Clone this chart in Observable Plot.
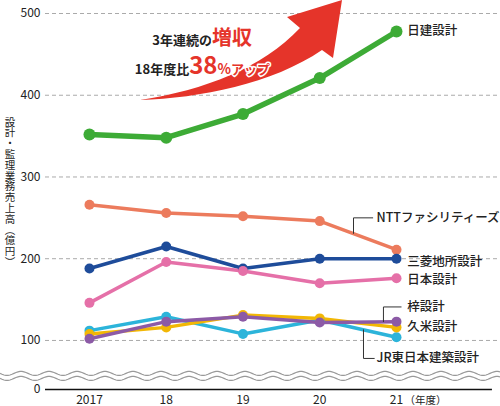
<!DOCTYPE html>
<html><head><meta charset="utf-8">
<script src="https://cdn.jsdelivr.net/npm/d3@7"></script>
<script src="https://cdn.jsdelivr.net/npm/@observablehq/plot@0.6"></script>
<style>
body{margin:0;background:#fff;}
#chart svg{display:block;}
</style></head>
<body><div id="chart"></div>
<script>
const years = [2017, 2018, 2019, 2020, 2021];
const yearLabels = ["2017", "18", "19", "20", "21"];
const companies = ["日建設計","NTTファシリティーズ","三菱地所設計","日本設計","JR東日本建築設計","久米設計","梓設計"];
const nikken     = [352, 348, 377, 421, 478];
const ntt        = [266, 256, 252, 246, 211];
const mitsubishi = [188, 215, 188, 200, 200];
const nihon      = [146, 196, 185, 170, 176];
const jr         = [112, 129, 108, 125, 104];
const kume       = [108, 116, 131, 127, 116];
const azusa      = [102, 123, 129, 122, 123];
const yTicks = [100, 200, 300, 400, 500];
const colors = ["#3dab36","#ec7b5d","#1e4c9a","#e570a8","#2cb4da","#f2b705","#8c5aa6"];
const yTitle = "設計・監理業務売上高（億円）";

const seriesValues = [nikken, ntt, mitsubishi, nihon, jr, kume, azusa];
const data = companies.flatMap((c, i) => years.map((y, j) => ({company: c, year: y, value: seriesValues[i][j]})));

// label annotations (anchor in data units)
const labels = [
  {company: companies[0], x: 2021.14, y: 478},
  {company: companies[1], x: 2020.74, y: 250},
  {company: companies[2], x: 2021.14, y: 196},
  {company: companies[3], x: 2021.14, y: 174},
  {company: companies[6], x: 2021.14, y: 141},
  {company: companies[5], x: 2021.14, y: 116},
  {company: companies[4], x: 2020.74, y: 78}
];
const leaders = [
  [{x:2020.44,y:231},{x:2020.44,y:250},{x:2020.69,y:250}],
  [{x:2020.83,y:123},{x:2020.83,y:141},{x:2021.06,y:141}],
  [{x:2020.57,y:113},{x:2020.57,y:78},{x:2020.71,y:78}]
].flatMap((pts, k) => pts.map(p => ({...p, k})));

const BREAK = 40; // axis origin shown as 0
const font = "'Noto Sans CJK JP', 'Noto Sans', sans-serif";
const color = {domain: companies, range: colors};
const others = data.filter(d => d.company !== companies[0]);
const drawOrder = [companies[1], companies[2], companies[3], companies[4], companies[5], companies[6]];
const green = data.filter(d => d.company === companies[0]);

const chart = Plot.plot({
  width: 500, height: 406,
  marginLeft: 45, marginRight: 0, marginTop: 13, marginBottom: 17,
  style: {fontFamily: font, fontSize: "12px", color: "#222", background: "#fff"},
  x: {type: "linear", domain: [2016.427, 2022.355]},
  y: {type: "linear", domain: [BREAK, 500]},
  color,
  marks: [
    Plot.ruleY(yTicks, {stroke: "#aaa", strokeDasharray: "4,3", strokeWidth: 1}),
    Plot.ruleY([BREAK], {x1: 2016.427, x2: 2022.25, stroke: "#111", strokeWidth: 1.6}),
    Plot.axisY({ticks: [BREAK, ...yTicks], tickFormat: d => d === BREAK ? "0" : String(d), tickSize: 0, tickPadding: 5, label: null, fontSize: 12}),
    Plot.axisX({ticks: years, tickFormat: d => yearLabels[years.indexOf(d)], tickSize: 0, tickPadding: 6, label: null, fontSize: 12}),
    Plot.text(["（年度）"], {x: 2021, y: BREAK, dx: 8, dy: 11, textAnchor: "start", fontSize: 10.5, fill: "#222"}),
    ...drawOrder.map(c => Plot.line(others.filter(d => d.company === c), {x: "year", y: "value", stroke: "company", strokeWidth: 3.5})),
    ...drawOrder.map(c => Plot.dot(others.filter(d => d.company === c), {x: "year", y: "value", fill: "company", r: 5})),
    Plot.line(green, {x: "year", y: "value", stroke: "company", strokeWidth: 5.5}),
    Plot.dot(green, {x: "year", y: "value", fill: "company", r: 6}),
    Plot.line(leaders, {x: "x", y: "y", z: "k", stroke: "#333", strokeWidth: 1, curve: "linear"}),
    Plot.text(labels, {x: "x", y: "y", text: "company", textAnchor: "start", fontSize: 12.5, fontWeight: 500, fill: "#222"})
  ]
});
document.getElementById("chart").appendChild(chart);

const svg = d3.select(chart);
const ys = chart.scale("y");

// broken-axis wavy lines
const yb = ys.apply(56);
const wave = (off) => {
  const pts = [];
  for (let x = 0; x <= 500; x += 2) pts.push([x, off + 2 * Math.sin(x / 28 * 2 * Math.PI)]);
  return d3.line()(pts);
};
const gw = svg.append("g");
gw.append("rect").attr("x", 0).attr("y", yb - 5).attr("width", 500).attr("height", 10).attr("fill", "#fff");
gw.append("path").attr("d", wave(yb - 2.5)).attr("fill", "none").attr("stroke", "#999").attr("stroke-width", 1.2);
gw.append("path").attr("d", wave(yb + 2.5)).attr("fill", "none").attr("stroke", "#999").attr("stroke-width", 1.2);

// vertical y-axis title
svg.append("text")
  .attr("x", 10).attr("y", 192)
  .attr("text-anchor", "middle")
  .attr("writing-mode", "tb")
  .style("writing-mode", "vertical-rl")
  .style("text-orientation", "upright")
  .attr("letter-spacing", 0.3)
  .attr("font-family", font).attr("font-size", 10.5).attr("fill", "#222")
  .text(yTitle);

// red arrow annotation
svg.append("path")
  .attr("d", "M140,100 C200,98 272,84 322,50 L333,58 L342,0 L287,17 L300,28 C262,68 205,90 140,100 Z")
  .attr("fill", "#e5342a");

const ann = svg.append("g").attr("font-family", font).attr("font-weight", "bold")
  .style("paint-order", "stroke").attr("stroke", "#fff").attr("stroke-width", 3).attr("stroke-linejoin", "round");
const t1 = ann.append("text").attr("x", 252).attr("y", 45).attr("text-anchor", "end");
t1.append("tspan").attr("font-size", 13).attr("fill", "#222").text("3年連続の");
t1.append("tspan").attr("font-size", 20).attr("fill", "#e5342a").text("増収");
const t2 = ann.append("text").attr("x", 270).attr("y", 74).attr("text-anchor", "end");
t2.append("tspan").attr("font-size", 13).attr("fill", "#222").text("18年度比");
t2.append("tspan").attr("font-size", 24).attr("fill", "#e5342a").text("38");
t2.append("tspan").attr("font-size", 14).attr("fill", "#e5342a").text("%");
t2.append("tspan").attr("font-size", 13).attr("fill", "#e5342a").text("アップ");
</script>
</body></html>
